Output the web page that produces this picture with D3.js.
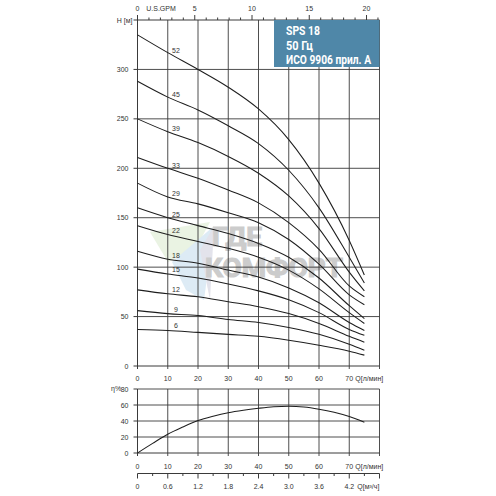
<!DOCTYPE html>
<html>
<head>
<meta charset="utf-8">
<script src="https://cdn.jsdelivr.net/npm/d3@7"></script>
<style>
  html, body { margin: 0; padding: 0; background: #fff; }
  svg { display: block; }
  .tk { font-family: "Liberation Sans", Arial, sans-serif; font-size: 7px; fill: #333; }
</style>
</head>
<body>
<svg id="chart" width="496" height="496"></svg>
<script>
// ---------- data ----------
const flowLpm = [0, 10, 20, 30, 40, 50, 60, 70, 75];
const stageLabels = ["52", "45", "39", "33", "29", "25", "22", "18", "15", "12", "9", "6"];
const head52 = [335, 317, 300, 282, 260, 229, 185, 127, 92];
const head45 = [288, 272, 259, 243, 225, 198, 160, 110, 84];
const head39 = [250, 237, 226, 212, 195, 172, 139, 95, 76];
const head33 = [211, 200, 190, 178, 165, 145, 118, 81, 70];
const head29 = [185, 171, 164, 155, 145, 128, 103, 72, 62];
const head25 = [160, 150, 142, 134, 124, 110, 89, 61, 48];
const head22 = [142, 133, 126, 119, 110, 97, 78, 54, 43];
const head18 = [116, 108, 104, 97, 90, 79, 64, 44, 36];
const head15 = [98, 93, 89, 83, 76, 67, 54, 37, 31];
const head12 = [77, 73, 70, 65, 60, 53, 43, 30, 24];
const head9 = [56, 53, 51, 47, 44, 39, 32, 22, 16];
const head6 = [37, 36, 34, 32, 30, 26, 21, 15, 11];
const headSeries = [head52, head45, head39, head33, head29, head25, head22, head18, head15, head12, head9, head6];

const effFlow = [0, 5, 10, 15, 20, 25, 30, 35, 40, 45, 50, 55, 60, 65, 70, 75];
const effValues = [0, 12, 23.5, 32.5, 40.5, 46, 50.4, 53.5, 55.9, 57.8, 58.5, 57.5, 54.7, 50.8, 45.5, 38.5];

const flowTicks = [0, 10, 20, 30, 40, 50, 60, 70];
const headTicks = [0, 50, 100, 150, 200, 250, 300];
const gpmLabels = [0, 5, 10, 15, 20];
const effTicks = [0, 20, 40, 60, 80];
const m3hLabels = ["0", "0.6", "1.2", "1.8", "2.4", "3.0", "3.6", "4.2"];
const titleLines = ["SPS 18", "50 Гц", "ИСО 9906 прил. А"];
const titleWidths = [34, 27, 85];

// ---------- scales ----------
const svg = d3.select("#chart");
const X0 = 137.5, X1 = 379.5;
const x = d3.scaleLinear().domain([0, 80]).range([X0, X1]);
const y = d3.scaleLinear().domain([0, 350]).range([366, 20]);
const xg = d3.scaleLinear().domain([0, 80 / 3.7854]).range([X0, X1]);
const ye = d3.scaleLinear().domain([0, 80]).range([453, 389]);
const gridColor = "#3a3a3a";

svg.append("rect").attr("width", 496).attr("height", 496).attr("fill", "#fff");

// ---------- watermark ----------
const wm = svg.append("g").attr("opacity", 0.5);
wm.append("polygon").attr("points", "150,232 210,222 196,248 168,262").attr("fill", "#d6e8c8");
wm.append("polygon").attr("points", "172,262 200,238 214,226 204,300 186,290").attr("fill", "#bcd9ec");
wm.append("polygon").attr("points", "200,250 214,226 210,300").attr("fill", "#c8c8d8");
wm.append("text").attr("x", 212).attr("y", 246).attr("textLength", 50).attr("lengthAdjust", "spacingAndGlyphs")
  .attr("font-family", "Roboto, Liberation Sans, sans-serif").attr("font-weight", "bold")
  .attr("font-size", 26).attr("fill", "#9a9a9a").attr("stroke", "#9a9a9a").attr("stroke-width", 1.2).text("ГДЕ");
wm.append("text").attr("x", 205).attr("y", 277).attr("textLength", 138).attr("lengthAdjust", "spacingAndGlyphs")
  .attr("font-family", "Roboto, Liberation Sans, sans-serif").attr("font-weight", "bold")
  .attr("font-size", 26).attr("fill", "#9a9a9a").attr("stroke", "#9a9a9a").attr("stroke-width", 1.2).text("КОМФОРТ");

// ---------- main chart grid ----------
const g = svg.append("g");
g.selectAll("line.vg").data(d3.range(10, 81, 10)).join("line")
  .attr("x1", d => x(d)).attr("x2", d => x(d)).attr("y1", y(350)).attr("y2", y(0) + 3)
  .attr("stroke", gridColor).attr("stroke-width", 0.9);
g.selectAll("line.hg").data(d3.range(50, 301, 50)).join("line")
  .attr("x1", X0).attr("x2", X1).attr("y1", d => y(d)).attr("y2", d => y(d))
  .attr("stroke", gridColor).attr("stroke-width", 0.9);
g.append("line").attr("x1", X0).attr("x2", X0).attr("y1", y(350)).attr("y2", y(0) + 3).attr("stroke", gridColor);
g.append("line").attr("x1", X0).attr("x2", X1).attr("y1", y(0)).attr("y2", y(0)).attr("stroke", gridColor);
g.selectAll("line.lt").data(d3.range(0, 351, 50)).join("line")
  .attr("x1", X0 - 4).attr("x2", X0).attr("y1", d => y(d)).attr("y2", d => y(d)).attr("stroke", gridColor);
g.selectAll("text.yl").data(headTicks).join("text").attr("class", "tk")
  .attr("x", X0 - 9).attr("y", d => y(d) + 2.5).attr("text-anchor", "end").text(d => d);
g.append("text").attr("class", "tk").attr("x", X0 - 5).attr("y", y(350) + 2.5).attr("text-anchor", "end").text("H [м]");

// top GPM axis
const topAxis = g.append("g");
topAxis.selectAll("line").data(d3.range(0, 22)).join("line")
  .attr("x1", d => xg(d)).attr("x2", d => xg(d))
  .attr("y1", d => y(350) - (d % 5 === 0 ? 5 : 2.5)).attr("y2", y(350)).attr("stroke", gridColor);
topAxis.append("line").attr("x1", X0).attr("x2", X1).attr("y1", y(350)).attr("y2", y(350)).attr("stroke", gridColor);
topAxis.selectAll("text.gl").data(gpmLabels).join("text").attr("class", "tk")
  .attr("x", d => xg(d)).attr("y", 10.5).attr("text-anchor", "middle").text(d => d);
topAxis.append("text").attr("class", "tk").attr("x", 161).attr("y", 10.5).attr("text-anchor", "middle").text("U.S.GPM");

g.selectAll("text.xl").data(flowTicks).join("text").attr("class", "tk")
  .attr("x", d => x(d)).attr("y", 380.5).attr("text-anchor", "middle").text(d => d);
g.append("text").attr("class", "tk").attr("x", x(70) + 6).attr("y", 380.5).text("Q[л/мин]");

// title box
svg.append("rect").attr("x", 274).attr("y", y(350)).attr("width", X1 - 274).attr("height", 47).attr("fill", "#4f87a8");
svg.selectAll("text.title").data(titleLines).join("text")
  .attr("x", 286).attr("y", (d, i) => 35 + i * 14.6)
  .attr("textLength", (d, i) => titleWidths[i]).attr("lengthAdjust", "spacingAndGlyphs")
  .attr("font-family", "Roboto, Liberation Sans, sans-serif")
  .attr("font-weight", "bold").attr("font-size", 12.5).attr("fill", "#fff").text(d => d);

// ---------- head curves ----------
const line = d3.line().x((d, i) => x(flowLpm[i])).y(d => y(d)).curve(d3.curveMonotoneX);
svg.append("g").selectAll("path").data(headSeries).join("path")
  .attr("d", line).attr("fill", "none").attr("stroke", "#1e1e1e").attr("stroke-width", 1.05);
const labelQ = 12;
svg.append("g").selectAll("text").data(headSeries).join("text").attr("class", "tk")
  .attr("x", (d, i) => stageLabels[i].length > 1 ? 172 : 174)
  .attr("y", d => y(d[1] + (d[2] - d[1]) * (labelQ - 10) / 10) - 2.5)
  .text((d, i) => stageLabels[i]);

// ---------- efficiency chart ----------
const e = svg.append("g");
e.selectAll("line.evg").data(d3.range(10, 81, 10)).join("line")
  .attr("x1", d => x(d)).attr("x2", d => x(d)).attr("y1", ye(80)).attr("y2", ye(0) + 3)
  .attr("stroke", gridColor).attr("stroke-width", 0.9);
e.selectAll("line.ehg").data([20, 40, 60, 80]).join("line")
  .attr("x1", X0).attr("x2", X1).attr("y1", d => ye(d)).attr("y2", d => ye(d))
  .attr("stroke", gridColor).attr("stroke-width", 0.9);
e.append("line").attr("x1", X0).attr("x2", X0).attr("y1", ye(80)).attr("y2", ye(0) + 3).attr("stroke", gridColor);
e.append("line").attr("x1", X0).attr("x2", X1).attr("y1", ye(0)).attr("y2", ye(0)).attr("stroke", gridColor);
e.selectAll("line.elt").data(effTicks).join("line")
  .attr("x1", X0 - 4).attr("x2", X0).attr("y1", d => ye(d)).attr("y2", d => ye(d)).attr("stroke", gridColor);
e.selectAll("text.eyl").data(effTicks).join("text").attr("class", "tk")
  .attr("x", X0 - 9).attr("y", d => ye(d) + 2.5).attr("text-anchor", "end").text(d => d);
e.append("text").attr("class", "tk").attr("x", 111).attr("y", ye(80) + 2).attr("font-size", 5).text("η%");
e.selectAll("text.exl").data(flowTicks).join("text").attr("class", "tk")
  .attr("x", d => x(d)).attr("y", 469).attr("text-anchor", "middle").text(d => d);
e.append("text").attr("class", "tk").attr("x", x(70) + 6).attr("y", 469).text("Q[л/мин]");

const effLine = d3.line().x((d, i) => x(effFlow[i])).y(d => ye(d)).curve(d3.curveMonotoneX);
e.append("path").datum(effValues).attr("d", effLine).attr("fill", "none").attr("stroke", "#1e1e1e").attr("stroke-width", 1.05);

// m3/h axis
const m = svg.append("g");
const mY = 473.5;
m.append("line").attr("x1", X0).attr("x2", X1).attr("y1", mY).attr("y2", mY).attr("stroke", gridColor);
m.selectAll("line.mt").data(d3.range(0, 81, 5)).join("line")
  .attr("x1", d => x(d)).attr("x2", d => x(d)).attr("y1", mY)
  .attr("y2", d => mY + (d % 10 === 0 ? 5 : 2.5)).attr("stroke", gridColor);
m.selectAll("text.ml").data(m3hLabels).join("text").attr("class", "tk")
  .attr("x", (d, i) => x(flowTicks[i])).attr("y", 488.5).attr("text-anchor", "middle").text(d => d);
m.append("text").attr("class", "tk").attr("x", x(70) + 8).attr("y", 488.5).text("Q[м³/ч]");
</script>
</body>
</html>
